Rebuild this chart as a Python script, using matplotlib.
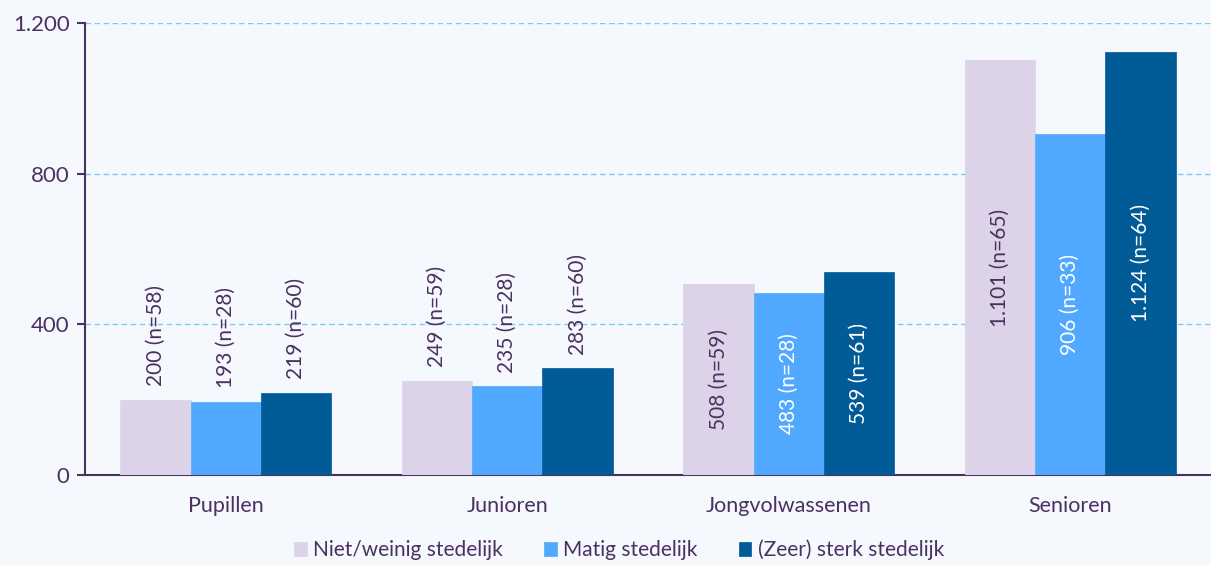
import matplotlib
matplotlib.use("Agg")
import matplotlib.pyplot as plt
import numpy as np
from matplotlib.ticker import FuncFormatter

categories = ["Pupillen", "Junioren", "Jongvolwassenen", "Senioren"]
series_names = ["Niet/weinig stedelijk", "Matig stedelijk", "(Zeer) sterk stedelijk"]
values = [
    [200, 249, 508, 1101],
    [193, 235, 483, 906],
    [219, 283, 539, 1124],
]
counts = [
    [58, 59, 59, 65],
    [28, 28, 28, 33],
    [60, 60, 61, 64],
]
colors = ["#DCD3E8", "#51A9FF", "#005B96"]
inside_text_colors = ["#4B3160", "white", "white"]
yticks = [0, 400, 800, 1200]

TEXT = "#4B3160"
BG = "#F5F9FE"
plt.rcParams['font.family'] = ['Lato', 'DejaVu Sans']

def fmt(v):
    return f"{int(v):,}".replace(",", ".")

fig = plt.figure(figsize=(12.11, 5.65), dpi=100, facecolor=BG)
ax = fig.add_axes([85/1211, 1 - 475/565, 1 - 85/1211, (475 - 23)/565])
ax.set_facecolor(BG)

x = np.arange(len(categories))
w = 0.25
for i, (name, vals) in enumerate(zip(series_names, values)):
    pos = x + (i - 1) * w
    ax.bar(pos, vals, width=w, color=colors[i], label=name, zorder=3,
           edgecolor=colors[i], linewidth=0.5)
    for px, v, n in zip(pos, vals, counts[i]):
        label = f"{fmt(v)} (n={n})"
        if v > 400:
            ax.text(px, v / 2, label, rotation=90, ha="center", va="center",
                    color=inside_text_colors[i], fontsize=15, zorder=4)
        else:
            ax.annotate(label, (px, v), xytext=(0, 10), textcoords="offset points",
                        rotation=90, ha="center", va="bottom", color=TEXT,
                        fontsize=15, zorder=4)

ax.set_xlim(-0.5, len(categories) - 0.5)
ax.set_ylim(0, 1200)
ax.set_yticks(yticks)
ax.yaxis.set_major_formatter(FuncFormatter(lambda v, p: fmt(v)))
ax.set_xticks(x)
ax.set_xticklabels(categories)
ax.tick_params(axis="x", length=0, pad=15, labelsize=15.5, colors=TEXT)
ax.tick_params(axis="y", length=6, width=1.5, color=TEXT, labelsize=16,
               labelcolor=TEXT, pad=5)
for s in ["top", "right"]:
    ax.spines[s].set_visible(False)
for s in ["left", "bottom"]:
    ax.spines[s].set_color(TEXT)
    ax.spines[s].set_linewidth(1.5)
for t in yticks[1:]:
    ax.axhline(t, color="#7CC8F5", linestyle=(0, (4, 2.5)), linewidth=1, zorder=1)

leg = fig.legend(loc="lower center", bbox_to_anchor=(619/1211, -0.025), ncol=3,
                 frameon=False, fontsize=15, handlelength=0.6, handleheight=0.6,
                 handletextpad=0.3, columnspacing=2.0)
for t in leg.get_texts():
    t.set_color(TEXT)

fig.savefig("out.png", dpi=100, facecolor=BG)
